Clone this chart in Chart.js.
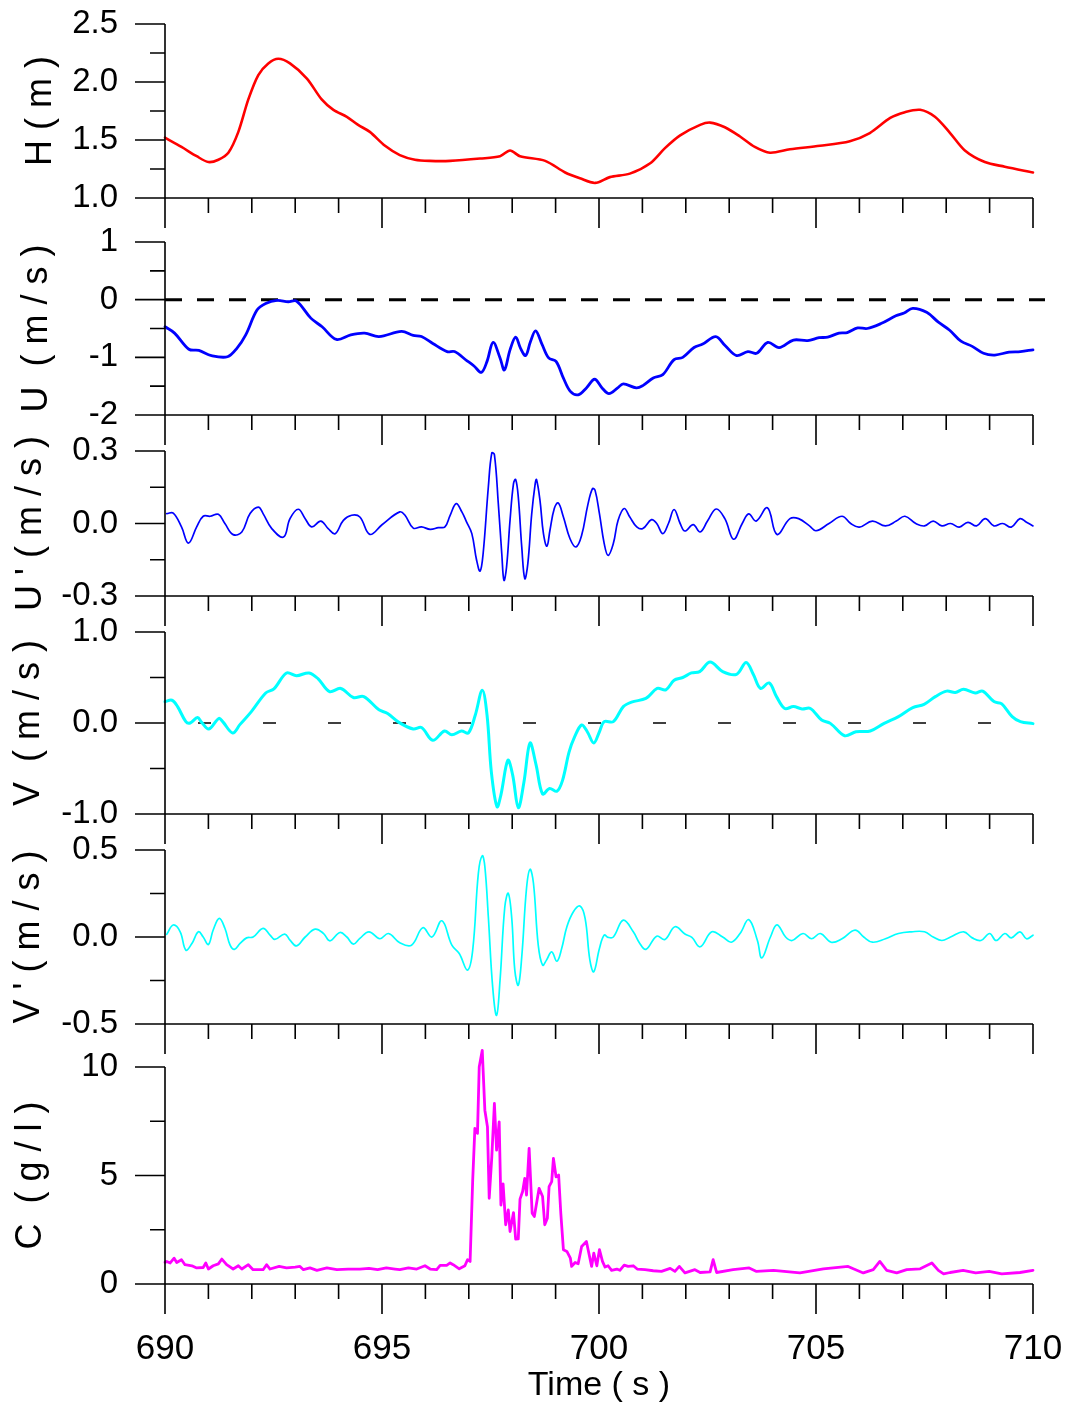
<!DOCTYPE html>
<html>
<head>
<meta charset="utf-8">
<script src="https://cdn.jsdelivr.net/npm/chart.js@4.4.1/dist/chart.umd.min.js"></script>
<style>
  body { margin: 0; background: #fff; width: 1066px; height: 1403px; overflow: hidden; position: relative; }
  canvas { position: absolute; left: 0; }
</style>
</head>
<body>
<script>
// ---- data ----
const hTime = [690.00, 690.38, 690.73, 691.00, 691.23, 691.46, 691.69, 691.92, 692.15, 692.38, 692.61, 692.88, 693.27, 693.61, 693.88, 694.19, 694.45, 694.72, 695.07, 695.41, 695.76, 696.10, 696.57, 697.26, 697.72, 697.95, 698.18, 698.76, 699.22, 699.56, 699.91, 700.25, 700.71, 701.18, 701.52, 701.87, 702.33, 702.56, 702.90, 703.25, 703.59, 703.94, 704.40, 705.09, 705.78, 706.24, 706.71, 707.05, 707.40, 707.74, 708.09, 708.43, 708.89, 709.35, 710.00];
const hValue = [1.52, 1.44, 1.36, 1.31, 1.33, 1.39, 1.57, 1.85, 2.06, 2.16, 2.20, 2.16, 2.03, 1.85, 1.76, 1.70, 1.63, 1.57, 1.45, 1.37, 1.33, 1.32, 1.32, 1.34, 1.36, 1.41, 1.36, 1.32, 1.22, 1.17, 1.13, 1.18, 1.21, 1.30, 1.43, 1.54, 1.63, 1.65, 1.61, 1.53, 1.44, 1.39, 1.42, 1.45, 1.49, 1.56, 1.69, 1.74, 1.76, 1.70, 1.56, 1.41, 1.31, 1.27, 1.22];

const uTime = [690.00, 690.22, 690.55, 690.78, 691.07, 691.44, 691.66, 691.86, 692.12, 692.32, 692.58, 692.84, 693.03, 693.36, 693.62, 693.95, 694.28, 694.60, 694.93, 695.45, 695.72, 695.91, 696.17, 696.50, 696.67, 696.96, 697.12, 697.29, 697.42, 697.56, 697.72, 697.82, 697.95, 698.08, 698.19, 698.31, 698.42, 698.54, 698.69, 698.84, 699.01, 699.18, 699.34, 699.52, 699.71, 699.90, 700.07, 700.23, 700.43, 700.56, 700.86, 701.01, 701.25, 701.47, 701.73, 701.93, 702.19, 702.39, 702.69, 702.91, 703.17, 703.43, 703.63, 703.89, 704.15, 704.48, 704.81, 705.07, 705.27, 705.53, 705.72, 705.96, 706.18, 706.51, 706.84, 707.03, 707.23, 707.55, 707.82, 708.08, 708.34, 708.60, 708.86, 709.12, 709.45, 709.71, 710.00];
const uValue = [-0.47, -0.58, -0.86, -0.88, -0.97, -0.99, -0.84, -0.61, -0.18, -0.065, -0.013, -0.036, -0.025, -0.32, -0.47, -0.69, -0.61, -0.58, -0.64, -0.55, -0.62, -0.64, -0.76, -0.90, -0.90, -1.06, -1.15, -1.26, -1.07, -0.74, -1.01, -1.22, -0.87, -0.65, -0.84, -0.97, -0.73, -0.54, -0.78, -1.01, -1.07, -1.36, -1.59, -1.65, -1.53, -1.38, -1.53, -1.63, -1.53, -1.46, -1.53, -1.49, -1.36, -1.30, -1.04, -1.00, -0.83, -0.77, -0.64, -0.80, -0.97, -0.90, -0.93, -0.74, -0.83, -0.70, -0.71, -0.66, -0.65, -0.58, -0.57, -0.49, -0.50, -0.41, -0.28, -0.23, -0.15, -0.22, -0.39, -0.53, -0.72, -0.81, -0.93, -0.96, -0.91, -0.90, -0.87];

const upTime = [690.04, 690.19, 690.38, 690.54, 690.73, 690.88, 691.04, 691.23, 691.38, 691.57, 691.77, 691.96, 692.15, 692.26, 692.46, 692.73, 692.88, 693.07, 693.23, 693.38, 693.59, 693.76, 693.92, 694.11, 694.30, 694.49, 694.72, 695.00, 695.41, 695.53, 695.72, 695.91, 696.11, 696.30, 696.45, 696.57, 696.71, 696.84, 696.95, 697.07, 697.18, 697.26, 697.33, 697.45, 697.53, 697.59, 697.68, 697.76, 697.81, 697.87, 697.95, 698.03, 698.08, 698.14, 698.22, 698.29, 698.36, 698.45, 698.53, 698.56, 698.64, 698.72, 698.80, 698.87, 698.97, 699.06, 699.18, 699.33, 699.47, 699.60, 699.74, 699.85, 699.91, 700.01, 700.12, 700.21, 700.33, 700.44, 700.58, 700.71, 700.87, 701.01, 701.21, 701.33, 701.47, 701.60, 701.73, 701.87, 701.98, 702.17, 702.33, 702.50, 702.70, 702.90, 703.10, 703.30, 703.45, 703.62, 703.88, 704.10, 704.40, 704.60, 704.85, 705.00, 705.30, 705.60, 705.80, 706.00, 706.30, 706.60, 706.85, 707.05, 707.30, 707.50, 707.70, 707.90, 708.10, 708.30, 708.50, 708.70, 708.90, 709.10, 709.30, 709.50, 709.70, 709.85, 710.00];
const upValue = [0.041, 0.043, -0.014, -0.081, -0.014, 0.030, 0.030, 0.038, 0.000, -0.046, -0.035, 0.041, 0.068, 0.041, -0.021, -0.056, 0.020, 0.059, 0.020, -0.014, 0.010, -0.021, -0.042, 0.013, 0.034, 0.027, -0.045, -0.005, 0.048, 0.034, -0.019, -0.014, -0.024, -0.017, -0.014, 0.034, 0.082, 0.048, 0.006, -0.042, -0.152, -0.197, -0.125, 0.151, 0.292, 0.285, 0.082, -0.125, -0.235, -0.180, 0.013, 0.165, 0.182, 0.110, -0.097, -0.228, -0.166, 0.041, 0.165, 0.182, 0.096, -0.042, -0.094, -0.028, 0.062, 0.085, 0.027, -0.062, -0.097, -0.049, 0.075, 0.144, 0.137, 0.041, -0.083, -0.132, -0.083, 0.013, 0.062, 0.027, -0.014, -0.021, 0.016, 0.000, -0.042, 0.000, 0.058, 0.000, -0.031, -0.005, -0.035, 0.010, 0.060, 0.020, -0.065, 0.000, 0.040, 0.010, 0.065, -0.045, 0.020, 0.020, -0.010, -0.030, 0.000, 0.030, 0.000, -0.015, 0.010, -0.010, 0.010, 0.030, 0.000, -0.010, 0.010, -0.010, 0.000, -0.015, 0.005, -0.010, 0.020, -0.010, 0.000, -0.015, 0.020, 0.005, -0.010];

const vTime = [690.00, 690.16, 690.29, 690.48, 690.58, 690.75, 690.84, 691.01, 691.24, 691.33, 691.56, 691.73, 691.99, 692.32, 692.51, 692.80, 693.03, 693.32, 693.53, 693.79, 694.05, 694.34, 694.58, 694.93, 695.13, 695.39, 695.72, 695.91, 696.17, 696.44, 696.61, 696.83, 696.99, 697.15, 697.31, 697.42, 697.52, 697.65, 697.74, 697.90, 698.01, 698.14, 698.27, 698.41, 698.55, 698.70, 698.86, 699.03, 699.16, 699.31, 699.44, 699.60, 699.73, 699.88, 700.01, 700.12, 700.33, 700.56, 700.75, 701.08, 701.34, 701.54, 701.73, 701.93, 702.13, 702.32, 702.56, 702.85, 703.17, 703.39, 703.56, 703.72, 703.92, 704.09, 704.28, 704.48, 704.68, 704.87, 705.13, 705.33, 705.66, 705.92, 706.25, 706.57, 706.90, 707.23, 707.49, 707.75, 708.01, 708.21, 708.40, 708.67, 708.84, 709.10, 709.28, 709.52, 709.71, 710.00];
const vValue = [0.235, 0.25, 0.18, 0.015, 0.00, 0.06, 0.01, -0.066, 0.05, 0.015, -0.11, -0.015, 0.125, 0.33, 0.375, 0.55, 0.52, 0.55, 0.485, 0.345, 0.38, 0.28, 0.29, 0.145, 0.105, 0.007, -0.066, -0.05, -0.19, -0.088, -0.13, -0.088, -0.11, 0.088, 0.36, 0.088, -0.54, -0.92, -0.79, -0.41, -0.57, -0.93, -0.65, -0.22, -0.46, -0.78, -0.72, -0.75, -0.63, -0.32, -0.15, -0.022, -0.096, -0.22, -0.096, 0.015, 0.015, 0.18, 0.23, 0.27, 0.38, 0.365, 0.47, 0.50, 0.55, 0.565, 0.67, 0.565, 0.535, 0.665, 0.53, 0.38, 0.44, 0.29, 0.16, 0.18, 0.155, 0.16, 0.033, -0.004, -0.14, -0.096, -0.088, -0.004, 0.07, 0.17, 0.205, 0.29, 0.35, 0.335, 0.37, 0.33, 0.35, 0.235, 0.21, 0.07, 0.015, -0.007];

const vpTime = [690.04, 690.19, 690.35, 690.48, 690.62, 690.77, 690.88, 691.00, 691.11, 691.25, 691.38, 691.50, 691.60, 691.73, 691.88, 692.03, 692.26, 692.42, 692.53, 692.76, 692.88, 693.03, 693.23, 693.46, 693.65, 693.80, 694.03, 694.19, 694.34, 694.49, 694.70, 694.95, 695.15, 695.41, 695.68, 695.94, 696.15, 696.38, 696.61, 696.78, 696.97, 697.09, 697.22, 697.31, 697.37, 697.45, 697.55, 697.64, 697.72, 697.83, 697.91, 697.99, 698.06, 698.14, 698.22, 698.33, 698.41, 698.49, 698.60, 698.70, 698.79, 698.91, 699.03, 699.14, 699.26, 699.41, 699.56, 699.68, 699.79, 699.88, 700.01, 700.12, 700.21, 700.33, 700.56, 700.79, 700.94, 701.08, 701.33, 701.52, 701.75, 701.98, 702.14, 702.33, 702.60, 702.85, 703.05, 703.25, 703.45, 703.65, 703.75, 703.95, 704.10, 704.30, 704.45, 704.70, 704.90, 705.10, 705.35, 705.60, 705.90, 706.10, 706.30, 706.60, 706.90, 707.20, 707.50, 707.70, 707.90, 708.10, 708.40, 708.60, 708.80, 709.00, 709.15, 709.35, 709.50, 709.70, 709.85, 710.00];
const vpValue = [0.015, 0.069, 0.030, -0.075, -0.037, 0.030, 0.000, -0.043, 0.040, 0.107, 0.050, -0.047, -0.071, -0.037, -0.005, 0.000, 0.050, 0.011, -0.014, 0.017, -0.018, -0.051, 0.000, 0.045, 0.021, -0.022, 0.026, 0.000, -0.041, -0.008, 0.030, -0.010, 0.020, -0.033, -0.047, 0.053, 0.000, 0.093, -0.047, -0.095, -0.190, -0.075, 0.366, 0.467, 0.404, 0.116, -0.287, -0.450, -0.248, 0.174, 0.251, 0.107, -0.190, -0.277, -0.114, 0.280, 0.389, 0.309, -0.047, -0.162, -0.133, -0.085, -0.139, -0.066, 0.059, 0.145, 0.178, 0.107, -0.133, -0.200, -0.066, 0.011, -0.002, 0.000, 0.097, 0.030, -0.037, -0.071, 0.005, -0.014, 0.059, 0.017, -0.002, -0.056, 0.030, 0.000, -0.030, 0.020, 0.100, -0.020, -0.120, 0.000, 0.070, 0.000, -0.020, 0.020, -0.010, 0.020, -0.030, -0.010, 0.040, 0.000, -0.030, -0.010, 0.020, 0.030, 0.030, 0.000, -0.020, 0.000, 0.030, -0.005, -0.020, 0.020, -0.020, 0.020, -0.005, 0.030, -0.010, 0.010];

const cTime = [690.00, 690.04, 690.12, 690.21, 690.27, 690.38, 690.46, 690.62, 690.73, 690.88, 690.94, 691.00, 691.11, 691.23, 691.31, 691.42, 691.57, 691.69, 691.77, 691.92, 692.03, 692.26, 692.34, 692.42, 692.63, 692.80, 693.00, 693.11, 693.19, 693.34, 693.50, 693.73, 693.96, 694.22, 694.49, 694.70, 694.90, 695.10, 695.30, 695.41, 695.61, 695.80, 695.99, 696.11, 696.26, 696.34, 696.49, 696.57, 696.64, 696.78, 696.91, 696.97, 697.03, 697.09, 697.14, 697.20, 697.24, 697.31, 697.37, 697.43, 697.47, 697.53, 697.59, 697.64, 697.70, 697.74, 697.79, 697.85, 697.91, 697.95, 698.03, 698.08, 698.14, 698.18, 698.24, 698.29, 698.33, 698.39, 698.46, 698.51, 698.62, 698.70, 698.75, 698.81, 698.85, 698.91, 698.95, 699.01, 699.07, 699.12, 699.18, 699.26, 699.34, 699.37, 699.45, 699.52, 699.60, 699.71, 699.83, 699.88, 699.95, 700.01, 700.08, 700.14, 700.21, 700.29, 700.41, 700.48, 700.58, 700.67, 700.79, 700.88, 701.06, 701.25, 701.44, 701.64, 701.75, 701.85, 701.98, 702.21, 702.33, 702.56, 702.63, 702.71, 703.09, 703.46, 703.63, 704.02, 704.63, 705.17, 705.74, 705.86, 706.09, 706.32, 706.47, 706.63, 706.86, 707.09, 707.40, 707.67, 707.82, 707.94, 708.09, 708.39, 708.68, 708.99, 709.28, 709.70, 710.00];
const cValue = [1.00, 1.04, 0.97, 1.19, 0.99, 1.12, 0.89, 0.84, 0.74, 0.76, 0.97, 0.69, 0.84, 0.93, 1.15, 0.89, 0.69, 0.84, 0.69, 0.89, 0.66, 0.66, 0.89, 0.69, 0.81, 0.74, 0.78, 0.81, 0.66, 0.74, 0.63, 0.74, 0.66, 0.69, 0.69, 0.72, 0.66, 0.74, 0.69, 0.66, 0.74, 0.69, 0.84, 0.69, 0.66, 0.86, 0.86, 0.97, 0.89, 0.70, 0.84, 1.12, 1.04, 4.79, 7.17, 6.94, 10.0, 10.77, 8.01, 7.24, 3.95, 5.86, 8.32, 6.17, 7.47, 3.64, 4.61, 2.73, 3.41, 2.42, 3.29, 2.07, 2.08, 3.91, 4.26, 4.87, 4.10, 6.25, 3.26, 3.11, 4.41, 4.03, 2.73, 3.03, 4.49, 4.72, 5.79, 4.94, 5.02, 3.26, 1.58, 1.50, 1.19, 0.81, 0.99, 0.93, 1.73, 1.96, 0.81, 1.42, 0.84, 1.58, 1.04, 0.78, 0.84, 0.63, 0.69, 0.63, 0.87, 0.81, 0.84, 0.69, 0.66, 0.61, 0.58, 0.72, 0.58, 0.81, 0.51, 0.66, 0.53, 0.56, 1.12, 0.53, 0.66, 0.74, 0.58, 0.63, 0.51, 0.70, 0.81, 0.70, 0.51, 0.66, 1.04, 0.63, 0.51, 0.66, 0.70, 0.97, 0.63, 0.47, 0.53, 0.63, 0.51, 0.58, 0.47, 0.53, 0.63];

// ---- tick values and labels ----
const xMajorTicks = [690, 695, 700, 705, 710];
const xTickLabels = ["690", "695", "700", "705", "710"];
const xMinorTicks = [691, 692, 693, 694, 696, 697, 698, 699, 701, 702, 703, 704, 706, 707, 708, 709];

const hTicks = [1.0, 1.5, 2.0, 2.5];
const hTickLabels = ["1.0", "1.5", "2.0", "2.5"];
const hMinorTicks = [1.25, 1.75, 2.25];

const uTicks = [-2, -1, 0, 1];
const uTickLabels = ["-2", "-1", "0", "1"];
const uMinorTicks = [-1.5, -0.5, 0.5];

const upTicks = [-0.3, 0.0, 0.3];
const upTickLabels = ["-0.3", "0.0", "0.3"];
const upMinorTicks = [-0.15, 0.15];

const vTicks = [-1.0, 0.0, 1.0];
const vTickLabels = ["-1.0", "0.0", "1.0"];
const vMinorTicks = [-0.5, 0.5];

const vpTicks = [-0.5, 0.0, 0.5];
const vpTickLabels = ["-0.5", "0.0", "0.5"];
const vpMinorTicks = [-0.25, 0.25];

const cTicks = [0, 5, 10];
const cTickLabels = ["0", "5", "10"];
const cMinorTicks = [2.5, 7.5];

Chart.defaults.font.family = "'Liberation Sans', Arial, sans-serif";
Chart.defaults.color = "#000";

// panel layout (pixel rows of each plot area)
const panels = [
  { time: hTime, values: hValue, color: "#ff0000", width: 2.6, tension: 0.3, ticks: hTicks, labels: hTickLabels, minor: hMinorTicks, title: "H ( m )", top: 24, bottom: 198, titleX: 41 },
  { time: uTime, values: uValue, color: "#0000ff", width: 2.8, tension: 0.35, ticks: uTicks, labels: uTickLabels, minor: uMinorTicks, title: "U  ( m / s )", top: 242, bottom: 415, titleX: 37,
    zero: { width: 3, dash: [17, 15], start: 0, extend: 12 } },
  { time: upTime, values: upValue, color: "#0000ff", width: 1.7, tension: 0.4, ticks: upTicks, labels: upTickLabels, minor: upMinorTicks, title: "U ' ( m / s )", top: 451, bottom: 596, titleX: 31 },
  { time: vTime, values: vValue, color: "#00ffff", width: 3, tension: 0.35, ticks: vTicks, labels: vTickLabels, minor: vMinorTicks, title: "V  ( m / s )", top: 632, bottom: 814, titleX: 29,
    zero: { width: 1.5, dash: [13, 52], start: 33, extend: 0 } },
  { time: vpTime, values: vpValue, color: "#00ffff", width: 1.7, tension: 0.4, ticks: vpTicks, labels: vpTickLabels, minor: vpMinorTicks, title: "V ' ( m / s )", top: 850, bottom: 1024, titleX: 29 },
  { time: cTime, values: cValue, color: "#ff00ff", width: 2.8, tension: 0, ticks: cTicks, labels: cTickLabels, minor: cMinorTicks, title: "C  ( g / l )", top: 1067, bottom: 1284, titleX: 31, last: true }
];

// hidden grid keeps label offset without inflating the scale padding
const hiddenGrid = len => ({ display: true, drawOnChartArea: false, drawTicks: true, tickLength: len, color: "rgba(0,0,0,0)" });

// axis lines and tick marks, drawn through the chart scales
function makeAxes(p) {
  return {
    id: "axes",
    beforeDatasetsDraw(chart) {
      if (!p.zero) return;
      const { ctx, chartArea: a, scales: { y } } = chart;
      const py = y.getPixelForValue(0);
      ctx.save();
      ctx.strokeStyle = "#000";
      ctx.lineWidth = p.zero.width;
      ctx.setLineDash(p.zero.dash);
      ctx.beginPath();
      ctx.moveTo(a.left + p.zero.start, py);
      ctx.lineTo(a.right + p.zero.extend, py);
      ctx.stroke();
      ctx.restore();
    },
    afterDraw(chart) {
      const { ctx, chartArea: a, scales: { x, y } } = chart;
      ctx.save();
      ctx.strokeStyle = "#000";
      ctx.lineWidth = 1.6;
      ctx.beginPath();
      ctx.moveTo(a.left, a.top);
      ctx.lineTo(a.left, a.bottom + 30);
      ctx.moveTo(a.left, a.bottom);
      ctx.lineTo(a.right, a.bottom);
      p.ticks.forEach(v => {
        const py = y.getPixelForValue(v);
        ctx.moveTo(a.left - 30, py);
        ctx.lineTo(a.left, py);
      });
      p.minor.forEach(v => {
        const py = y.getPixelForValue(v);
        ctx.moveTo(a.left - 15, py);
        ctx.lineTo(a.left, py);
      });
      xMajorTicks.forEach(v => {
        const px = x.getPixelForValue(v);
        ctx.moveTo(px, a.bottom);
        ctx.lineTo(px, a.bottom + 30);
      });
      xMinorTicks.forEach(v => {
        const px = x.getPixelForValue(v);
        ctx.moveTo(px, a.bottom);
        ctx.lineTo(px, a.bottom + 15);
      });
      ctx.stroke();
      ctx.restore();
    }
  };
}

panels.forEach(p => {
  const padTop = 30;
  const padBottom = p.last ? 0 : 36;
  const canvasTop = p.top - padTop;
  const height = p.last ? 1403 - canvasTop : (p.bottom - p.top) + padTop + padBottom;
  const xAxisHeight = p.last ? height - padTop - (p.bottom - p.top) : 0;

  const canvas = document.createElement("canvas");
  canvas.width = 1066;
  canvas.height = height;
  canvas.style.top = canvasTop + "px";
  canvas.style.width = "1066px";
  canvas.style.height = height + "px";
  document.body.appendChild(canvas);

  new Chart(canvas, {
    type: "line",
    data: {
      datasets: [{
        data: p.time.map((t, i) => ({ x: t, y: p.values[i] })),
        borderColor: p.color,
        borderWidth: p.width,
        borderJoinStyle: "round",
        borderCapStyle: "round",
        tension: p.tension,
        pointRadius: 0,
        fill: false,
        clip: false
      }]
    },
    options: {
      responsive: false,
      animation: false,
      devicePixelRatio: 1,
      layout: { padding: { left: 0, right: 33, top: padTop, bottom: padBottom } },
      plugins: { legend: { display: false }, tooltip: { enabled: false } },
      scales: {
        x: {
          type: "linear",
          min: xMajorTicks[0],
          max: xMajorTicks[xMajorTicks.length - 1],
          display: !!p.last,
          grid: hiddenGrid(44),
          border: { display: false },
          afterBuildTicks: s => { s.ticks = xMajorTicks.map(v => ({ value: v })); },
          afterFit: s => { s.height = xAxisHeight; },
          ticks: {
            autoSkip: false, maxRotation: 0, minRotation: 0, padding: 0,
            font: { size: 35 }, color: "#000",
            callback: v => xTickLabels[xMajorTicks.indexOf(v)]
          },
          title: { display: true, text: "Time ( s )", font: { size: 34, lineHeight: 1 }, padding: 0, color: "#000" }
        },
        y: {
          type: "linear",
          min: p.ticks[0],
          max: p.ticks[p.ticks.length - 1],
          grid: hiddenGrid(47),
          border: { display: false },
          afterBuildTicks: s => { s.ticks = p.ticks.map(v => ({ value: v })); },
          afterFit: s => { s.width = 165; },
          ticks: {
            autoSkip: false, padding: 0,
            font: { size: 33 }, color: "#000",
            callback: v => p.labels[p.ticks.indexOf(v)]
          },
          title: { display: true, text: p.title, font: { size: 36, lineHeight: 1 }, padding: { top: p.titleX - 18, bottom: 0 }, color: "#000" }
        }
      }
    },
    plugins: [makeAxes(p)]
  });
});
</script>
</body>
</html>
